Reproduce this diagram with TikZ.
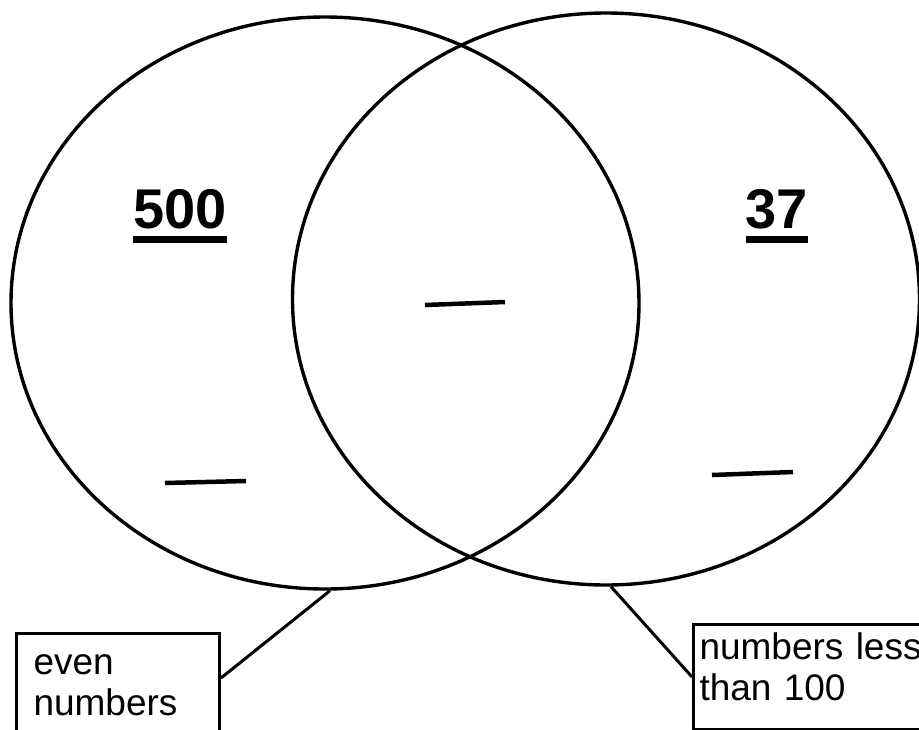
\documentclass[tikz,border=0pt]{standalone}
\usepackage{fontspec}
\setmainfont{Liberation Sans}
\usetikzlibrary{shapes.geometric,calc}

\begin{document}
\begin{tikzpicture}[x=1pt, y=-1pt,
  every node/.style={font=\fontsize{37}{41}\selectfont},
  setring/.style={draw, ellipse, line width=3.4pt, inner sep=0pt},
  tagbox/.style={draw, line width=3pt, align=left, anchor=north west},
  tally/.style={inner sep=0pt, anchor=base, font=\bfseries\fontsize{56}{60}\selectfont},
  heavy/.style={line width=4.5pt}]

\useasboundingbox (0,0) rectangle (919,729);

% ============================
% The two sets
% ============================
\node[setring, minimum width=628pt, minimum height=572pt] (evens) at (325,303) {};
\node[setring, minimum width=627pt, minimum height=572pt] (small) at (606,299) {};

% ============================
% Sample numbers
% ============================
\node[tally] (n500) at (180,228) {500};
\node[tally] (n37)  at (777,228) {37};

\foreach \n in {n500,n37}{
  \draw[line width=7pt] ([yshift=-11pt]\n.base west) -- ([yshift=-11pt]\n.base east);
}

% ============================
% Blanks
% ============================
\draw[heavy] (165,483) -- (246,481);
\draw[heavy] (425,305) -- (505,302);
\draw[heavy] (712,475) -- (793,472);

% ============================
% Label boxes
% ============================
\node[tagbox, inner xsep=17pt, inner ysep=21pt, text width=169pt] (evenbox) at (15,632) {even\\numbers};
\node[tagbox, inner xsep=6pt, inner ysep=8pt, text width=260pt, text depth=62pt] (lessbox) at (692,623) {numbers less\\than 100};

\draw[line width=3pt] (evens.-89) -- ($(evenbox.north east)+(0,46)$);
\draw[line width=3pt] (small.-89) -- (lessbox.west);

\end{tikzpicture}
\end{document}
